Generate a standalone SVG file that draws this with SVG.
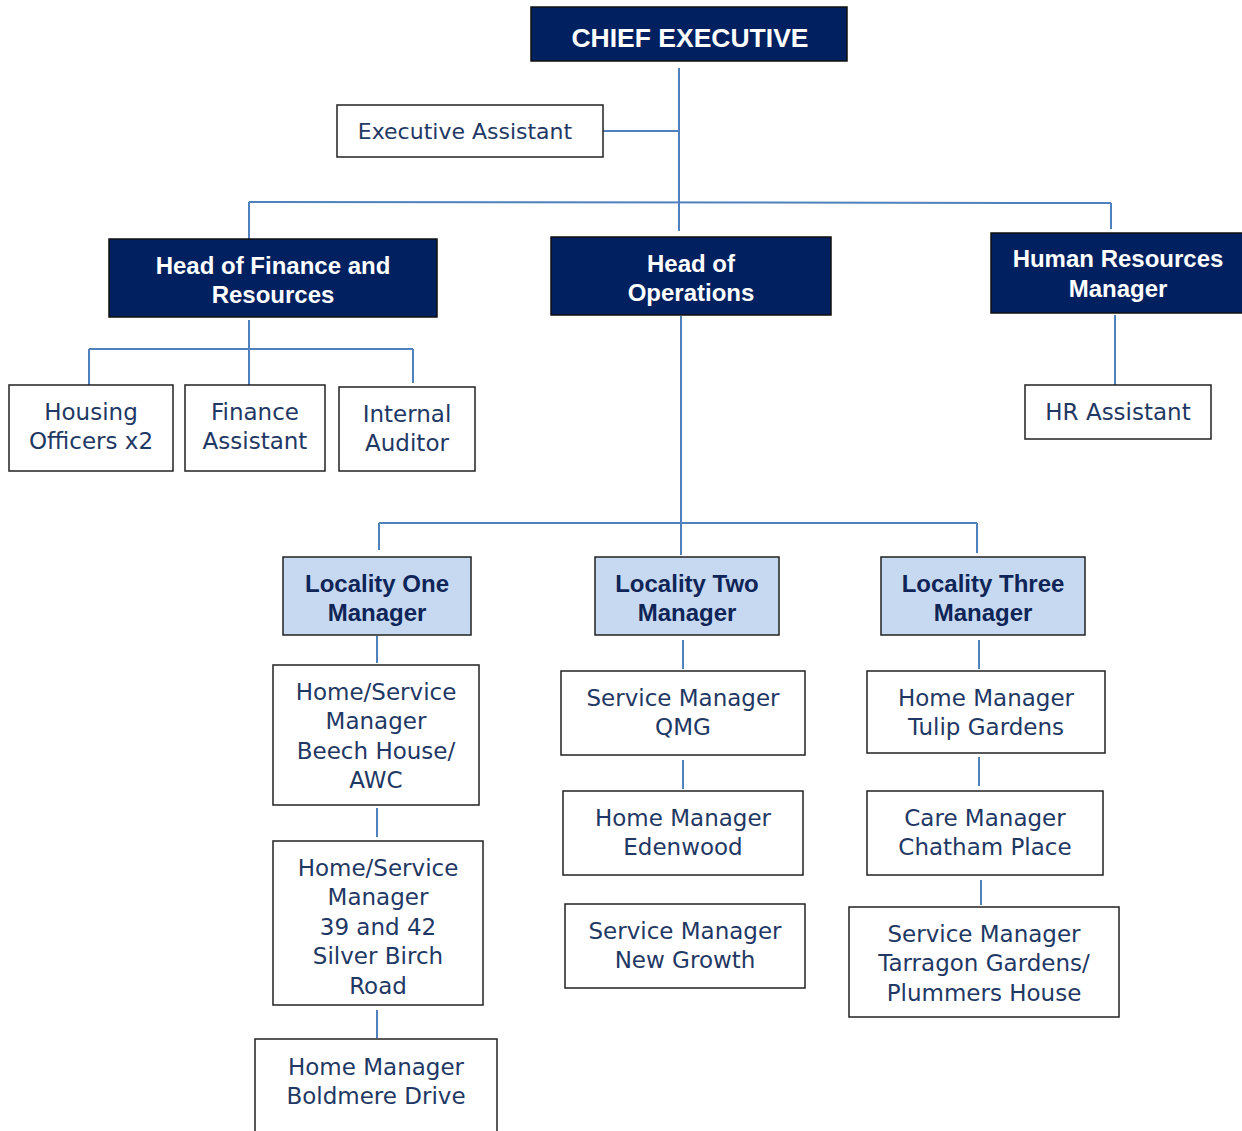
<svg xmlns="http://www.w3.org/2000/svg" width="1242" height="1131" viewBox="0 0 1242 1131">
<style>
.dark{fill:#002060;stroke:#111;stroke-width:1.5}
.light{fill:#C6D9F1;stroke:#222;stroke-width:1.5}
.plain{fill:#fff;stroke:#222;stroke-width:1.5}
.tw{fill:#fff;font-family:"Liberation Sans",Arial,sans-serif;font-weight:bold;font-size:24px;text-anchor:middle}
.tb{fill:#0F2557;font-family:"Liberation Sans",Arial,sans-serif;font-weight:bold;font-size:24px;text-anchor:middle}
.tr{fill:#1F3864;font-family:"DejaVu Sans","Noto Sans",sans-serif;font-size:23px;text-anchor:middle}
.conn line{stroke:#4F81BD;stroke-width:2;fill:none}
</style>
<rect width="1242" height="1131" fill="#fff"/>
<g class="conn" id="connectors">
<line x1="679" y1="68" x2="679" y2="231"/>
<line x1="603" y1="131" x2="679" y2="131"/>
<line x1="249" y1="202" x2="1111" y2="203"/>
<line x1="249" y1="202" x2="249" y2="239"/>
<line x1="1111" y1="203" x2="1111" y2="229"/>
<line x1="249" y1="320" x2="249" y2="385"/>
<line x1="89" y1="349" x2="413" y2="349"/>
<line x1="89" y1="349" x2="89" y2="385"/>
<line x1="413" y1="349" x2="413" y2="383"/>
<line x1="1115" y1="315" x2="1115" y2="385"/>
<line x1="681" y1="316" x2="681" y2="555"/>
<line x1="379" y1="523" x2="977" y2="523"/>
<line x1="379" y1="523" x2="379" y2="550"/>
<line x1="977" y1="523" x2="977" y2="553"/>
<line x1="377" y1="636" x2="377" y2="663"/>
<line x1="377" y1="808" x2="377" y2="837"/>
<line x1="377" y1="1010" x2="377" y2="1038"/>
<line x1="683" y1="640" x2="683" y2="669"/>
<line x1="683" y1="760" x2="683" y2="789"/>
<line x1="979" y1="640" x2="979" y2="669"/>
<line x1="979" y1="757" x2="979" y2="786"/>
<line x1="981" y1="880" x2="981" y2="905"/>
</g>
<g id="chief-executive"><rect class="dark" x="531" y="7" width="316" height="54"/><text class="tw" x="690" y="47" style="font-size:26.5px">CHIEF EXECUTIVE</text></g>
<g id="executive-assistant"><rect class="plain" x="337" y="105" width="266" height="52"/><text class="tr" x="465" y="139" style="font-size:22px">Executive Assistant</text></g>
<g id="head-finance"><rect class="dark" x="109" y="239" width="328" height="78"/><text class="tw" x="273" y="274">Head of Finance and</text><text class="tw" x="273" y="303">Resources</text></g>
<g id="head-operations"><rect class="dark" x="551" y="237" width="280" height="78"/><text class="tw" x="691" y="272">Head of</text><text class="tw" x="691" y="301">Operations</text></g>
<g id="hr-manager"><rect class="dark" x="991" y="233" width="252" height="80"/><text class="tw" x="1118" y="267">Human Resources</text><text class="tw" x="1118" y="297">Manager</text></g>
<g id="hr-assistant"><rect class="plain" x="1025" y="385" width="186" height="54"/><text class="tr" x="1118" y="420">HR Assistant</text></g>
<g id="housing-officers"><rect class="plain" x="9" y="385" width="164" height="86"/><text class="tr" x="91" y="420">Housing</text><text class="tr" x="91" y="449">Officers x2</text></g>
<g id="finance-assistant"><rect class="plain" x="185" y="385" width="140" height="86"/><text class="tr" x="255" y="420">Finance</text><text class="tr" x="255" y="449">Assistant</text></g>
<g id="internal-auditor"><rect class="plain" x="339" y="387" width="136" height="84"/><text class="tr" x="407" y="422">Internal</text><text class="tr" x="407" y="451">Auditor</text></g>
<g id="locality-one"><rect class="light" x="283" y="557" width="188" height="78"/><text class="tb" x="377" y="592">Locality One</text><text class="tb" x="377" y="621">Manager</text></g>
<g id="locality-two"><rect class="light" x="595" y="557" width="184" height="78"/><text class="tb" x="687" y="592">Locality Two</text><text class="tb" x="687" y="621">Manager</text></g>
<g id="locality-three"><rect class="light" x="881" y="557" width="204" height="78"/><text class="tb" x="983" y="592">Locality Three</text><text class="tb" x="983" y="621">Manager</text></g>
<g id="beech-house"><rect class="plain" x="273" y="665" width="206" height="140"/><text class="tr" x="376" y="700">Home/Service</text><text class="tr" x="376" y="729">Manager</text><text class="tr" x="376" y="759">Beech House/</text><text class="tr" x="376" y="788">AWC</text></g>
<g id="silver-birch"><rect class="plain" x="273" y="841" width="210" height="164"/><text class="tr" x="378" y="876">Home/Service</text><text class="tr" x="378" y="905">Manager</text><text class="tr" x="378" y="935">39 and 42</text><text class="tr" x="378" y="964">Silver Birch</text><text class="tr" x="378" y="994">Road</text></g>
<g id="boldmere"><rect class="plain" x="255" y="1039" width="242" height="100"/><text class="tr" x="376" y="1075">Home Manager</text><text class="tr" x="376" y="1104">Boldmere Drive</text></g>
<g id="qmg"><rect class="plain" x="561" y="671" width="244" height="84"/><text class="tr" x="683" y="706">Service Manager</text><text class="tr" x="683" y="735">QMG</text></g>
<g id="edenwood"><rect class="plain" x="563" y="791" width="240" height="84"/><text class="tr" x="683" y="826">Home Manager</text><text class="tr" x="683" y="855">Edenwood</text></g>
<g id="new-growth"><rect class="plain" x="565" y="904" width="240" height="84"/><text class="tr" x="685" y="939">Service Manager</text><text class="tr" x="685" y="968">New Growth</text></g>
<g id="tulip"><rect class="plain" x="867" y="671" width="238" height="82"/><text class="tr" x="986" y="706">Home Manager</text><text class="tr" x="986" y="735">Tulip Gardens</text></g>
<g id="chatham"><rect class="plain" x="867" y="791" width="236" height="84"/><text class="tr" x="985" y="826">Care Manager</text><text class="tr" x="985" y="855">Chatham Place</text></g>
<g id="tarragon"><rect class="plain" x="849" y="907" width="270" height="110"/><text class="tr" x="984" y="942">Service Manager</text><text class="tr" x="984" y="971">Tarragon Gardens/</text><text class="tr" x="984" y="1001">Plummers House</text></g>
</svg>
